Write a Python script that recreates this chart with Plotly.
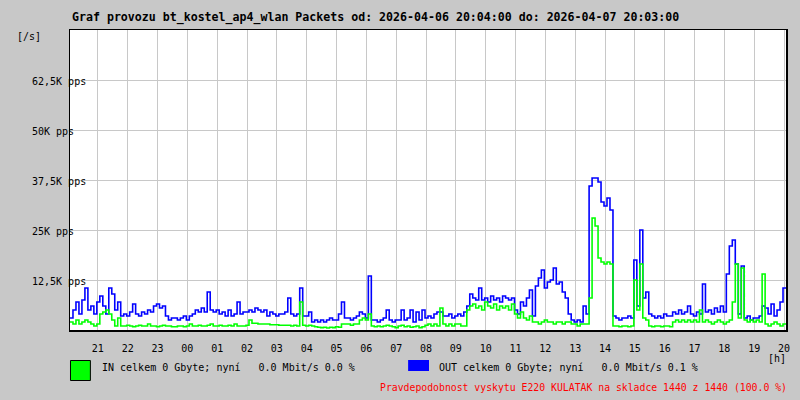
import plotly.graph_objects as go

# ---------------- data (values in thousands of packets per second) ----------------
start_hour = 20 + 4 / 60          # 2026-04-06 20:04
step_hours = 0.1                  # 6-minute samples

out_kpps = [
    3, 5, 7, 4, 7.5, 10.5, 5, 6, 4, 7,
    8.5, 6, 4, 10.5, 9, 5, 7, 3.5, 4, 3.5,
    4.5, 6.5, 4, 3.5, 4.5, 4, 5, 4.5, 6, 6.5,
    5.5, 6, 3.5, 2.5, 3, 3, 2.5, 3, 3.5, 2.5,
    3.5, 4, 5, 4.5, 5.5, 4.5, 9.5, 5, 4.5, 5,
    4, 4.5, 3.5, 5, 3.5, 4, 7, 4, 4.5, 4.5,
    5, 4.5, 5.5, 5, 4.5, 5, 3.5, 4.5, 4, 3.5,
    4, 4, 4.5, 8, 4, 3.5, 4, 10.5, 3.5, 3.5,
    4.5, 2, 2.5, 2, 2.5, 2, 2.5, 3, 2.5, 2.5,
    4, 7, 3, 3, 2.5, 3, 3.5, 4.5, 4, 3,
    13.5, 2.5, 2.5, 2, 2.5, 3, 5, 2.5, 2, 2.5,
    2.5, 5, 2.5, 3, 5, 2, 4.5, 2.5, 5, 3,
    3.5, 3, 4, 4.5, 4.5, 3.5, 3.5, 4, 3, 3.5,
    4, 3.5, 4.5, 6, 9, 8, 7.5, 10.5, 7.5, 8,
    7, 8.5, 7.5, 8, 7, 8.5, 8, 7.5, 8, 5,
    4, 7, 6, 8, 10, 3.5, 11, 13, 15, 10.5,
    12, 12.5, 15.5, 11.5, 12, 9.5, 8, 4, 2.5, 2,
    2.5, 2, 6, 4, 36, 38, 38, 37, 32, 31,
    33, 30, 3.5, 3, 2.5, 3, 3, 3.5, 3, 17.5,
    6, 25, 8, 9.5, 4, 3.5, 3, 3.5, 3, 4,
    3.5, 3.5, 4.5, 4, 5, 4, 4.5, 6, 4, 3.5,
    4.5, 4, 11.5, 4.5, 5, 4, 5.5, 4.5, 6, 4.5,
    14, 21, 22.5, 16.5, 4, 16, 3, 3.5, 2.5, 3,
    3, 3.5, 6, 5.5, 4, 6.5, 3.5, 5, 7, 10.5,
]

in_kpps = [
    2, 1.5, 2.5, 1.5, 2, 2.5, 2, 1.5, 1, 1.5,
    4, 4.5, 5, 4, 2.5, 1, 3, 1, 1, 1.2,
    1, 0.8, 1, 1.2, 1, 1, 1.5, 1, 1, 0.8,
    1, 1.2, 1, 1, 0.8, 0.8, 1, 1, 0.8, 1,
    1.5, 1, 1, 1.2, 1, 1, 1.2, 1.5, 1, 1,
    1.2, 1, 1, 1.2, 1, 1.5, 1, 1, 1, 1.2,
    2.5, 1.7, 1.7, 1.5, 1.5, 1.5, 1.5, 1.3, 1.3, 1.3,
    1.2, 1.2, 1.2, 1.2, 1, 1.2, 1, 7, 1.2, 1,
    1.2, 1, 0.8, 0.7, 0.6, 0.7, 0.5, 0.7, 0.6, 0.8,
    0.7, 1.5, 1.5, 1.5, 1.2, 1.5, 1.5, 2.5, 3, 2.5,
    4, 1, 0.8, 1, 0.8, 1, 1.2, 1, 0.8, 0.6,
    1, 1.2, 0.8, 1, 0.7, 0.8, 1, 0.6, 0.8, 1.2,
    1.5, 1, 1.5, 1, 5.5, 1.5, 1, 1.5, 1, 1.5,
    1.5, 1, 1, 5, 6, 6.5, 5.5, 6, 5, 7,
    6, 5.5, 6.5, 5, 6, 5.5, 6, 5, 6.5, 4,
    3, 4.5, 3, 2.5, 3.5, 2, 2, 1.5, 2, 2.5,
    2, 2, 1.5, 2, 2, 1.5, 2, 2, 1.5, 1.5,
    1, 1.5, 1.5, 1.5, 8, 28, 26, 18, 17, 16.5,
    17, 16.5, 1, 1, 0.8, 1, 1, 0.8, 1, 12.5,
    5, 16.5, 3, 2.5, 1, 0.8, 1, 1, 0.8, 1,
    1, 0.8, 2, 2.5, 2, 2.5, 2, 2.5, 2, 2.5,
    2, 5, 2, 2.5, 2, 1.5, 2, 2.5, 2, 1.5,
    2, 2.5, 7, 16.5, 3, 15.5, 2.5, 2, 2.5, 2,
    2.5, 2, 14, 1.5, 1, 1.5, 2, 1.5, 1, 1.5,
]

hour_ticks = list(range(21, 45))
hour_labels = ["21", "22", "23", "00", "01", "02", "03", "04", "05", "06", "07", "08",
               "09", "10", "11", "12", "13", "14", "15", "16", "17", "18", "19", "20"]

y_ticks = [12.5, 25, 37.5, 50, 62.5]
y_labels = ["12,5K pps", "25K pps", "37,5K pps", "50K pps", "62,5K pps"]

title_text = "Graf provozu bt_kostel_ap4_wlan Packets od: 2026-04-06 20:04:00 do: 2026-04-07 20:03:00"
in_text = "IN celkem 0 Gbyte; nyní   0.0 Mbit/s 0.0 %"
out_text = "OUT celkem 0 Gbyte; nyní   0.0 Mbit/s 0.1 %"
red_text = "Pravdepodobnost vyskytu E220 KULATAK na skladce 1440 z 1440 (100.0 %)"

# ---------------- figure ----------------
W, H = 800, 400
ML, MR, MT, MB = 70, 10, 30, 70
PW, PH = W - ML - MR, H - MT - MB

def px(x):
    return (x - ML) / PW

def py(y):
    return (H - MB - y) / PH

xs = [start_hour + i * step_hours for i in range(len(out_kpps))]
xs_ext = xs + [start_hour + 24]
out_ext = out_kpps + [out_kpps[-1]]
in_ext = in_kpps + [in_kpps[-1]]

mono = "DejaVu Sans Mono, Liberation Mono, monospace"
bg = "#c8c8c8"

fig = go.Figure()
fig.add_trace(go.Scatter(x=xs_ext, y=out_ext, mode="lines", line=dict(color="#0000ff", width=1.6, shape="hv"),
                         name="OUT", hoverinfo="skip"))
fig.add_trace(go.Scatter(x=xs_ext, y=in_ext, mode="lines", line=dict(color="#00ff00", width=1.6, shape="hv"),
                         name="IN", hoverinfo="skip"))

fig.update_layout(
    width=W, height=H,
    margin=dict(l=ML, r=MR, t=MT, b=MB),
    paper_bgcolor=bg, plot_bgcolor="white",
    showlegend=False,
    font=dict(family=mono, size=10, color="black"),
    xaxis=dict(range=[start_hour, start_hour + 24], tickmode="array",
               tickvals=hour_ticks, ticktext=hour_labels,
               showgrid=True, gridcolor="#c8c8c8", gridwidth=1,
               showline=True, linecolor="black", linewidth=1.5, mirror=True,
               ticks="", ticklabelstandoff=8, zeroline=False,
               tickfont=dict(family=mono, size=10, color="black")),
    yaxis=dict(range=[0, 75], tickmode="array", tickvals=y_ticks,
               showticklabels=False, showgrid=True, gridcolor="#c8c8c8", gridwidth=1,
               showline=True, linecolor="black", linewidth=1.5, mirror=True,
               ticks="", zeroline=False),
)

ann = []
for v, lab in zip(y_ticks, y_labels):
    ann.append(dict(x=px(30), y=v, xref="paper", yref="y", text=lab, showarrow=False,
                    xanchor="left", yanchor="middle", yshift=-1,
                    font=dict(family=mono, size=10, color="black")))
ann.append(dict(x=px(15), y=py(37), xref="paper", yref="paper", text="[/s]", showarrow=False,
                xanchor="left", yanchor="middle", font=dict(family=mono, size=10, color="black")))
ann.append(dict(x=px(770), y=py(358), xref="paper", yref="paper", text="[h]", showarrow=False,
                xanchor="left", yanchor="middle", font=dict(family=mono, size=10, color="black")))
ann.append(dict(x=px(70), y=py(18), xref="paper", yref="paper", text="<b>" + title_text + "</b>",
                showarrow=False, xanchor="left", yanchor="middle",
                font=dict(family=mono, size=11.6, color="black")))
ann.append(dict(x=px(100), y=py(367), xref="paper", yref="paper", text=in_text.replace(" ", "\u00a0"),
                showarrow=False, xanchor="left", yanchor="middle",
                font=dict(family=mono, size=10, color="black")))
ann.append(dict(x=px(439), y=py(367), xref="paper", yref="paper", text=out_text.replace(" ", "\u00a0"),
                showarrow=False, xanchor="left", yanchor="middle",
                font=dict(family=mono, size=10, color="black")))
ann.append(dict(x=px(793), y=py(387), xref="paper", yref="paper", text=red_text,
                showarrow=False, xanchor="right", yanchor="middle",
                font=dict(family=mono, size=9.8, color="#ff0000")))
fig.update_layout(annotations=ann)

fig.add_shape(type="rect", xref="paper", yref="paper", x0=px(70.5), x1=px(90.5), y0=py(380.5), y1=py(360.5),
              fillcolor="#00ff00", line=dict(color="black", width=1))
fig.add_shape(type="rect", xref="paper", yref="paper", x0=px(410), x1=px(431), y0=py(371), y1=py(360),
              fillcolor="#0000ff", line=dict(width=0))

fig.write_html("out.html", config={"displayModeBar": False, "staticPlot": True},
               post_script="document.body.style.margin='0px';document.body.style.overflow='hidden';")
